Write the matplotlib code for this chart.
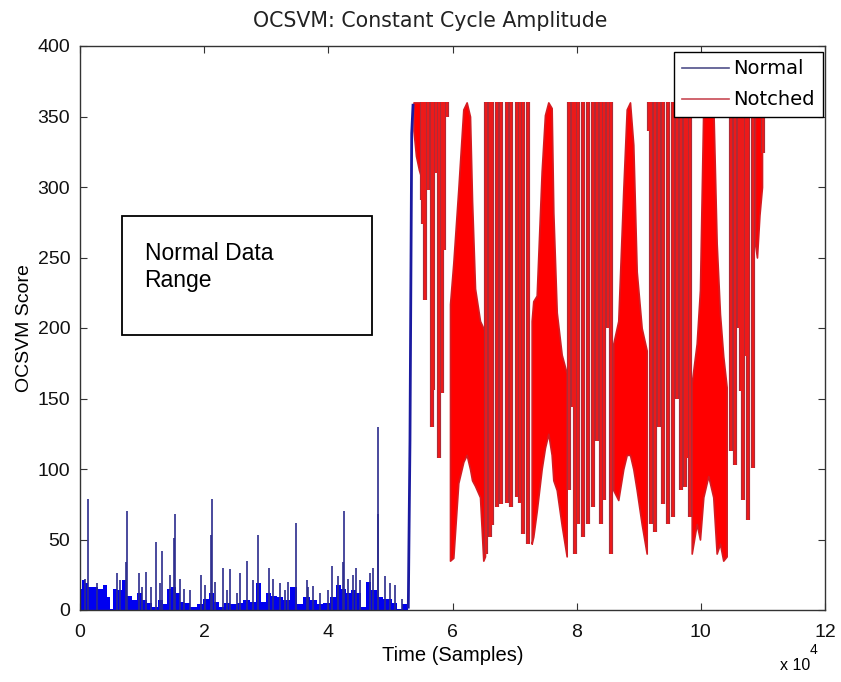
import matplotlib
matplotlib.use("Agg")
from matplotlib import pyplot as plt
from matplotlib.lines import Line2D
from matplotlib.patches import Rectangle

# Normal (blue) part: dense low floor, sparse spikes, and the rising edge
blue_floor_x = [0, 540, 1070, 1610, 2420, 3220, 4030, 4560, 5100, 5640, 6440, 7250,
                8050, 8860, 9660, 10470, 11270, 12080, 12890, 13690, 14230, 15030,
                15840, 16380, 17180, 18250, 19330, 20400, 21210, 22010, 22820, 23620,
                24700, 25770, 26850, 27920, 28720, 29530, 30330, 31140, 32210, 33290,
                34360, 35440, 36510, 37580, 38660, 39730, 40800, 41610, 42420, 43220,
                44030, 44830, 45640, 46440, 47250, 48320, 49130, 49930, 50740, 51540,
                52350, 52880]
blue_floor_y = [15, 21, 19, 16, 16, 15, 18, 9, 1, 15, 14, 21, 10, 7, 12, 7, 5, 2, 7, 4,
                15, 16, 12, 6, 5, 2, 4, 8, 12, 6, 2, 5, 4, 5, 7, 6, 19, 6, 12, 10, 9, 7,
                16, 4, 9, 7, 4, 5, 9, 18, 15, 12, 14, 12, 2, 20, 14, 9, 8, 8, 5, 1, 4, 2]

blue_spike_x = [810, 1340, 2680, 5910, 6440, 7360, 7520, 9560, 9930, 10630, 11380,
                12190, 12890, 13260, 14500, 15140, 15300, 16110, 16800, 17720, 19490,
                20130, 21050, 21210, 21740, 22980, 23620, 24110, 25230, 25770, 26850,
                27920, 28720, 30440, 31140, 32210, 33020, 33560, 34790, 36510, 36780,
                37580, 38660, 40000, 40540, 41610, 42420, 42580, 43220, 44030, 44400,
                45100, 46660, 47250, 47950, 48050, 49130, 49930, 50740, 51810]
blue_spike_y = [22, 79, 19, 26, 21, 34, 70, 26, 16, 27, 16, 48, 19, 42, 25, 51, 68, 22,
                15, 14, 25, 18, 53, 79, 20, 30, 14, 29, 12, 26, 35, 21, 53, 30, 22, 19,
                14, 20, 62, 21, 16, 17, 12, 14, 31, 24, 34, 70, 22, 25, 30, 21, 26, 30,
                68, 130, 24, 19, 18, 8]

blue_edge_x = [52880, 53150, 53430, 53640]
blue_edge_y = [2, 120, 338, 358]

# Notched (red) part: excursions down from the 360 ceiling
red_top = 360
red_spike_x = [55030, 55300, 55570, 56100, 56650, 56910, 57340, 57870, 58250, 58630,
               59160,
               65390, 65960, 66360, 67090, 67890, 68700, 69500, 70310, 70870, 71430,
               72240,
               78760, 79410, 79810, 80290, 81100, 81900, 82630, 83270, 83920, 84400,
               85120, 85610,
               91640, 92040, 92610, 93260, 93980, 94790, 95590, 96240, 96880, 97370,
               97770, 98330,
               104860, 105510, 106070, 106390, 106870, 107270, 107670, 108400, 110010]
red_spike_lo = [291, 274, 220, 298, 130, 156, 310, 108, 154, 255,
                350,
                40, 52, 60, 73, 75, 76, 73, 80, 76, 54,
                47,
                85, 144, 40, 61, 52, 61, 73, 120, 61, 78,
                200, 40,
                340, 61, 55, 130, 75, 61, 66, 150, 85, 87,
                108, 66,
                113, 103, 200, 155, 78, 180, 64, 101, 324]

# Notched (red) part: dense bands
lobe0_x = [53720, 54120, 54600, 55090, 55570]
lobe0_lo = [340, 322, 312, 305, 335]
lobe0_hi = [360, 360, 360, 360, 360]

lobe1_x = [59600, 60130, 60930, 61740, 62280, 62820, 63150, 63630, 64430, 64960, 65230]
lobe1_lo = [35, 37, 90, 105, 110, 100, 92, 88, 80, 35, 38]
lobe1_hi = [217, 246, 298, 355, 360, 350, 290, 228, 205, 200, 198]

lobe2_x = [72750, 73010, 73560, 74360, 74890, 75430, 75970, 76240, 76790, 77590, 78390]
lobe2_lo = [47, 52, 70, 100, 115, 125, 110, 92, 85, 60, 38]
lobe2_hi = [205, 219, 223, 311, 351, 360, 356, 282, 211, 181, 168]

lobe3_x = [85900, 86700, 87510, 88060, 88590, 89120, 89670, 90470, 91280]
lobe3_lo = [85, 78, 100, 110, 110, 100, 85, 61, 40]
lobe3_hi = [189, 205, 298, 355, 360, 330, 240, 200, 184]

lobe4_x = [98530, 99330, 99860, 100400, 101200, 102000, 102550, 103080, 103610, 104160]
lobe4_lo = [40, 61, 50, 80, 95, 80, 40, 47, 35, 38]
lobe4_hi = [161, 189, 227, 359, 360, 360, 260, 210, 180, 158]

lobe5_x = [108720, 109040, 109440, 109850]
lobe5_lo = [260, 250, 280, 300]
lobe5_hi = [360, 360, 360, 360]

lobes = [(lobe0_x, lobe0_lo, lobe0_hi), (lobe1_x, lobe1_lo, lobe1_hi),
         (lobe2_x, lobe2_lo, lobe2_hi), (lobe3_x, lobe3_lo, lobe3_hi),
         (lobe4_x, lobe4_lo, lobe4_hi), (lobe5_x, lobe5_lo, lobe5_hi)]

x_ticks = [0, 20000, 40000, 60000, 80000, 100000, 120000]
x_tick_labels = ['0', '2', '4', '6', '8', '10', '12']
y_ticks = [0, 50, 100, 150, 200, 250, 300, 350, 400]

fig = plt.figure(figsize=(8.41, 6.82), dpi=100)
ax = fig.add_axes([80 / 841, 1 - 610 / 682, 745 / 841, 564 / 682])

# blue
ax.fill_between(blue_floor_x, 0, blue_floor_y, step='mid', color='#0000f0', lw=0)
ax.vlines(blue_spike_x, 0, blue_spike_y, colors='#2b2b8c', lw=1.2)
ax.plot(blue_edge_x, blue_edge_y, color='#1a1aa0', lw=2)

# red: dark outline first, bright core on top
ax.vlines(red_spike_x, red_spike_lo, red_top, colors='#b02a36', lw=3.0)
ax.vlines(red_spike_x, red_spike_lo, red_top, colors='#ee1a1a', lw=1.4)
for lx, llo, lhi in lobes:
    ax.fill_between(lx, llo, lhi, color='#ff0000', lw=1.2, edgecolor='#d41c22')

# annotation box
ax.add_patch(Rectangle((6720, 195), 40260, 84.4, fill=False, edgecolor='black', lw=1.3))
ax.text(10400, 261, 'Normal Data\nRange', fontsize=16.5, family='Liberation Sans',
        va='top', ha='left', linespacing=1.2)

ax.set_xlim(0, 120000)
ax.set_ylim(0, 400)
ax.set_xticks(x_ticks)
ax.set_xticklabels(x_tick_labels)
ax.set_yticks(y_ticks)
ax.tick_params(direction='in', top=True, right=True, length=5, width=0.8,
               colors='#333333', labelcolor='#111111', labelsize=14)
ax.tick_params(axis='x', pad=10)
ax.tick_params(axis='y', pad=7)
for lab in ax.get_xticklabels() + ax.get_yticklabels():
    lab.set_family('Liberation Sans')
for sp in ax.spines.values():
    sp.set_color('#333333')
    sp.set_linewidth(1)

ax.set_title('OCSVM: Constant Cycle Amplitude', fontsize=14.8, color='#222222',
             x=0.47, pad=14)
ax.set_xlabel('Time (Samples)', fontsize=14.5, family='Liberation Sans', labelpad=4)
ax.set_ylabel('OCSVM Score', fontsize=14, family='Liberation Sans', labelpad=3)

fig.text(780 / 841, 1 - 665 / 682, 'x 10', fontsize=11.5, family='Liberation Sans',
         va='center', ha='left')
fig.text(810 / 841, 1 - 650 / 682, '4', fontsize=10, family='Liberation Sans',
         va='center', ha='left')

handles = [Line2D([], [], color='#50508a', lw=1.2),
           Line2D([], [], color='#c84a55', lw=1.2)]
leg = ax.legend(handles, ['Normal', 'Notched'], loc='upper right',
                bbox_to_anchor=(0.997, 0.99), fontsize=14, handlelength=2.4,
                handletextpad=0.25, borderaxespad=0, fancybox=False, framealpha=1,
                borderpad=0.4, labelspacing=0.62)
leg.get_frame().set_edgecolor('black')
leg.get_frame().set_linewidth(1)

fig.savefig('out.png', dpi=100)
